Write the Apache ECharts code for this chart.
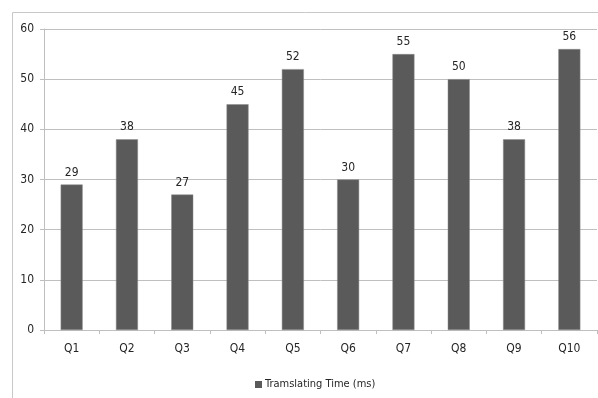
<!DOCTYPE html>
<html>
<head>
<meta charset="utf-8">
<script src="https://cdn.jsdelivr.net/npm/echarts@6/dist/echarts.min.js"></script>
<style>
  html, body { margin: 0; padding: 0; background: #fff; }
  #chart { width: 598px; height: 398px; }
</style>
</head>
<body>
<div id="chart"></div>
<script>
// Query labels and measured translating times
const categories = ['Q1', 'Q2', 'Q3', 'Q4', 'Q5', 'Q6', 'Q7', 'Q8', 'Q9', 'Q10'];
const translatingTime = [29, 38, 27, 45, 52, 30, 55, 50, 38, 56];
const seriesName = 'Tramslating Time (ms)';

const FONT = "'Liberation Sans Narrow', 'DejaVu Sans Condensed', 'Liberation Sans', sans-serif";
const TEXT = '#262626';

const chart = echarts.init(document.getElementById('chart'), null, { renderer: 'canvas' });

chart.setOption({
  animation: false,
  backgroundColor: '#ffffff',
  textStyle: { fontFamily: FONT },
  graphic: [{
    type: 'rect',
    shape: { x: 12.5, y: 12.5, width: 620, height: 420 },
    style: { fill: 'none', stroke: '#c8c8c8', lineWidth: 1 },
    silent: true,
    z: -10
  }],
  grid: { left: 44, right: 1, top: 29, bottom: 68, containLabel: false },
  legend: {
    data: [seriesName],
    left: 250,
    top: 374,
    itemWidth: 7,
    itemHeight: 7,
    itemGap: 4,
    icon: 'rect',
    itemStyle: { borderWidth: 0 },
    textStyle: { fontFamily: FONT, fontSize: 11, color: TEXT, padding: [0, 0, 0, -2] }
  },
  xAxis: {
    type: 'category',
    data: categories,
    axisLine: { show: true, lineStyle: { color: '#bfbfbf', width: 1 } },
    axisTick: { show: true, alignWithLabel: false, length: 4, lineStyle: { color: '#bfbfbf' } },
    axisLabel: { color: TEXT, fontSize: 12, fontFamily: FONT, margin: 13 },
    splitLine: { show: false }
  },
  yAxis: {
    type: 'value',
    min: 0,
    max: 60,
    interval: 10,
    axisLine: { show: true, lineStyle: { color: '#bfbfbf', width: 1 } },
    axisTick: { show: true, length: 4, lineStyle: { color: '#bfbfbf' } },
    axisLabel: { color: TEXT, fontSize: 12, fontFamily: FONT, margin: 10 },
    splitLine: { show: true, lineStyle: { color: '#bfbfbf', width: 1 } }
  },
  series: [{
    name: seriesName,
    type: 'bar',
    data: translatingTime,
    barWidth: 22,
    itemStyle: { color: '#5a5a5a', borderColor: '#8a8a8a', borderWidth: 0.5 },
    label: {
      show: true,
      position: 'top',
      distance: 6,
      color: TEXT,
      fontSize: 12,
      fontFamily: FONT
    }
  }]
});
</script>
</body>
</html>
